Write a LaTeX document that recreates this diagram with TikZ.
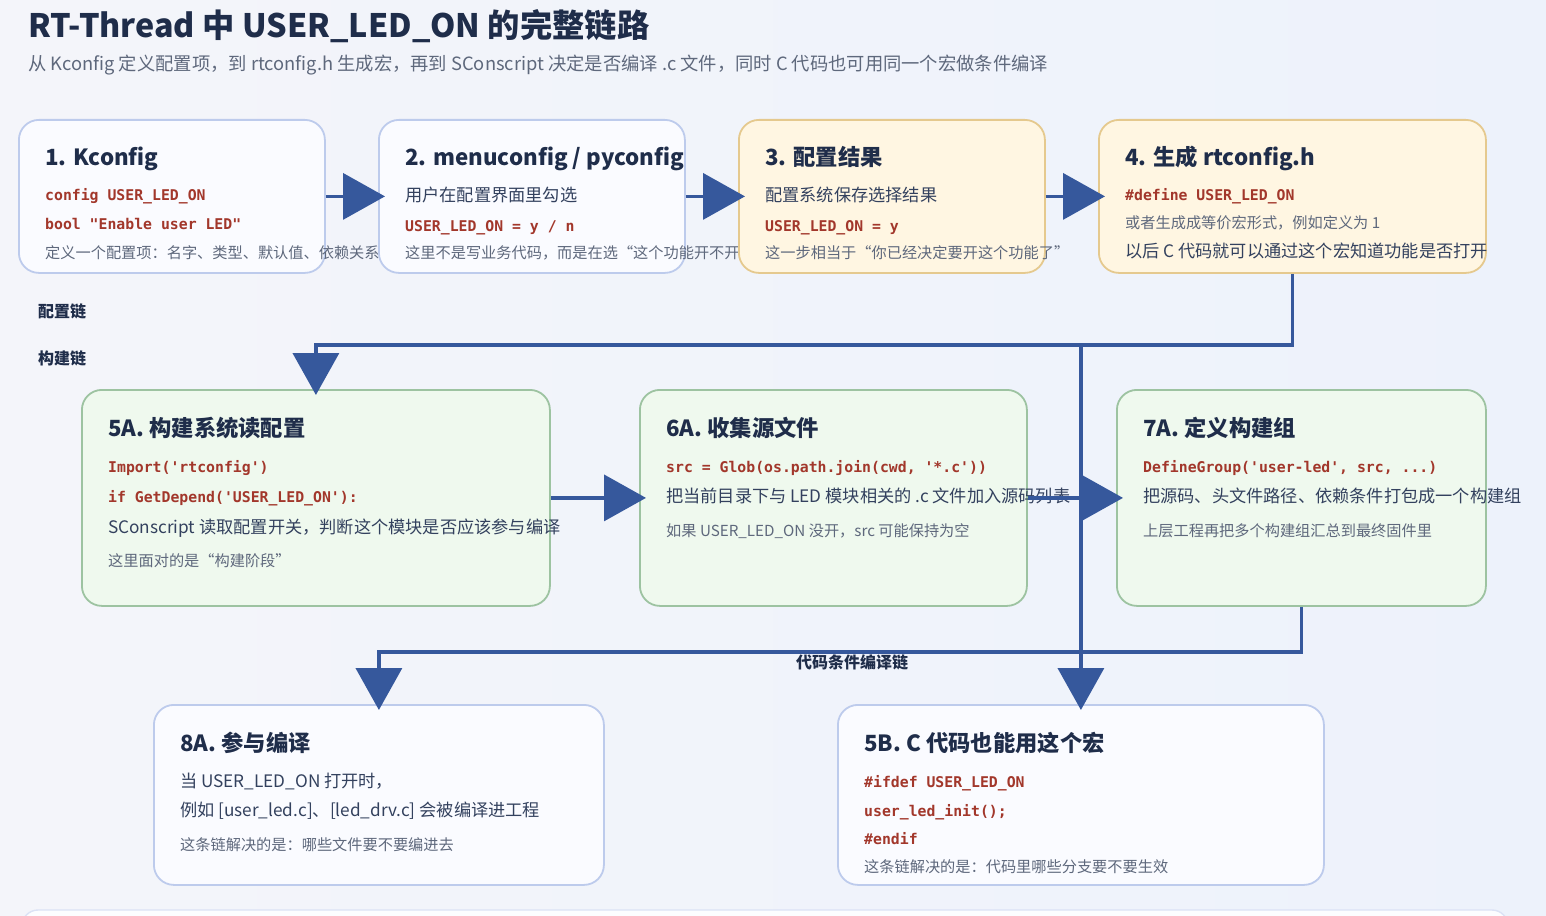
\documentclass[tikz,border=0pt]{standalone}
\usepackage{fontspec}
\setmainfont{Noto Sans CJK SC}
\setmonofont{DejaVu Sans Mono}
\usepackage{tikz}
\usetikzlibrary{positioning,arrows.meta,calc}
\definecolor{ink}{HTML}{1F2D4A}
\definecolor{bodyink}{HTML}{33415E}
\definecolor{muted}{HTML}{5E687C}
\definecolor{codered}{HTML}{A2372B}
\definecolor{flow}{HTML}{36589C}
\definecolor{paperl}{HTML}{F4F5FA}
\definecolor{paperr}{HTML}{EDF2FB}
\definecolor{blueline}{HTML}{BDCBEC}
\definecolor{bluefill}{HTML}{FAFBFF}
\definecolor{sandline}{HTML}{E5C98E}
\definecolor{sandfill}{HTML}{FFF6E2}
\definecolor{leafline}{HTML}{9DC3A1}
\definecolor{leaffill}{HTML}{EFF9EE}

\begin{document}
\begin{tikzpicture}[x=1pt, y=-1pt, >={Triangle[length=42pt,width=46pt]},
    card/.style={rounded corners=20pt, line width=1.8pt, anchor=north west, inner sep=0pt},
    bluecard/.style={card, draw=blueline, fill=bluefill},
    sandcard/.style={card, draw=sandline, fill=sandfill},
    leafcard/.style={card, draw=leafline, fill=leaffill},
    txt/.style={anchor=base west, inner sep=0pt},
    cardhead/.style={txt, font=\fontsize{22.3}{27}\selectfont\bfseries, text=ink},
    bodytxt/.style={txt, font=\fontsize{17.2}{21}\selectfont, text=bodyink},
    notetxt/.style={txt, font=\fontsize{15.2}{18}\selectfont, text=muted},
    codetxt/.style={txt, font=\fontsize{14.8}{18}\ttfamily\bfseries, text=codered},
    chainlbl/.style={txt, font=\fontsize{16}{19}\selectfont\bfseries, text=ink},
    flowline/.style={draw=flow, line width=3.6pt}]
    \useasboundingbox (0,0) rectangle (1546,915);
    \clip (0,0) rectangle (1546,915);
    \shade[left color=paperl, right color=paperr] (0,0) rectangle (1546,915);
    \draw[blueline!55, fill=bluefill!60, line width=1.4pt, rounded corners=16pt] (22,910) rectangle (1508,980);

    % header (text placed on baselines)
    \node[txt, font=\fontsize{32.3}{38}\selectfont\bfseries, text=ink] (title) at (28,38) {RT-Thread 中 USER\_LED\_ON 的完整链路};
    \node[txt, font=\fontsize{18.3}{22}\selectfont, text=muted] (subtitle) at (28,71) {从 Kconfig 定义配置项，到 rtconfig.h 生成宏，再到 SConscript 决定是否编译 .c 文件，同时 C 代码也可用同一个宏做条件编译};

    % config chain
    \node[bluecard, minimum width=306pt, minimum height=153pt] (b1) at (18,119) {};
    \node[cardhead] (b1h) at (45,165) {1. Kconfig};
    \node[codetxt] (b1c1) at (45,200) {config USER\_LED\_ON};
    \node[codetxt] (b1c2) at (45,229) {bool "Enable user LED"};
    \node[notetxt] (b1n) at (45,258) {定义一个配置项：名字、类型、默认值、依赖关系};

    \node[bluecard, minimum width=306pt, minimum height=153pt] (b2) at (378,119) {};
    \node[cardhead] (b2h) at (405,165) {2. menuconfig / pyconfig};
    \node[bodytxt] (b2t) at (405,201) {用户在配置界面里勾选};
    \node[codetxt] (b2c) at (405,231) {USER\_LED\_ON = y / n};
    \node[notetxt] (b2n) at (405,258) {这里不是写业务代码，而是在选“这个功能开不开”};

    \node[sandcard, minimum width=306pt, minimum height=153pt] (b3) at (738,119) {};
    \node[cardhead] (b3h) at (765,165) {3. 配置结果};
    \node[bodytxt] (b3t) at (765,201) {配置系统保存选择结果};
    \node[codetxt] (b3c) at (765,231) {USER\_LED\_ON = y};
    \node[notetxt] (b3n) at (765,258) {这一步相当于“你已经决定要开这个功能了”};

    \node[sandcard, minimum width=387pt, minimum height=153pt] (b4) at (1098,119) {};
    \node[cardhead] (b4h) at (1125,165) {4. 生成 rtconfig.h};
    \node[codetxt] (b4c) at (1125,200) {\#define USER\_LED\_ON};
    \node[notetxt] (b4n) at (1125,228) {或者生成成等价宏形式，例如定义为 1};
    \node[bodytxt] (b4t) at (1125,257) {以后 C 代码就可以通过这个宏知道功能是否打开};

    \node[chainlbl] (cfglbl) at (38,317) {配置链};
    \node[chainlbl] (bldlbl) at (38,364) {构建链};

    % build chain
    \node[leafcard, minimum width=468pt, minimum height=216pt] (b5a) at (81,389) {};
    \node[cardhead] (b5ah) at (108,436) {5A. 构建系统读配置};
    \node[codetxt] (b5ac1) at (108,472) {Import('rtconfig')};
    \node[codetxt] (b5ac2) at (108,502) {if GetDepend('USER\_LED\_ON'):};
    \node[bodytxt] (b5at) at (108,533) {SConscript 读取配置开关，判断这个模块是否应该参与编译};
    \node[notetxt] (b5an) at (108,566) {这里面对的是“构建阶段”};

    \node[leafcard, minimum width=387pt, minimum height=216pt] (b6a) at (639,389) {};
    \node[cardhead] (b6ah) at (666,436) {6A. 收集源文件};
    \node[codetxt] (b6ac) at (666,472) {src = Glob(os.path.join(cwd, '*.c'))};
    \node[bodytxt] (b6at) at (666,502) {把当前目录下与 LED 模块相关的 .c 文件加入源码列表};
    \node[notetxt] (b6an) at (666,536) {如果 USER\_LED\_ON 没开，src 可能保持为空};

    \node[leafcard, minimum width=369pt, minimum height=216pt] (b7a) at (1116,389) {};
    \node[cardhead] (b7ah) at (1143,436) {7A. 定义构建组};
    \node[codetxt] (b7ac) at (1143,472) {DefineGroup('user-led', src, ...)};
    \node[bodytxt] (b7at) at (1143,502) {把源码、头文件路径、依赖条件打包成一个构建组};
    \node[notetxt] (b7an) at (1143,536) {上层工程再把多个构建组汇总到最终固件里};

    % compile + code chain
    \node[bluecard, minimum width=450pt, minimum height=180pt] (b8a) at (153,704) {};
    \node[cardhead] (b8ah) at (180,751) {8A. 参与编译};
    \node[bodytxt] (b8at1) at (180,787) {当 USER\_LED\_ON 打开时，};
    \node[bodytxt] (b8at2) at (180,816) {例如 [user\_led.c]、[led\_drv.c] 会被编译进工程};
    \node[notetxt] (b8an) at (180,850) {这条链解决的是：哪些文件要不要编进去};

    \node[bluecard, minimum width=486pt, minimum height=180pt] (b5b) at (837,704) {};
    \node[cardhead] (b5bh) at (864,751) {5B. C 代码也能用这个宏};
    \node[codetxt] (b5bc1) at (864,787) {\#ifdef USER\_LED\_ON};
    \node[codetxt] (b5bc2) at (864,816) {user\_led\_init();};
    \node[codetxt] (b5bc3) at (864,844) {\#endif};
    \node[notetxt] (b5bn) at (864,872) {这条链解决的是：代码里哪些分支要不要生效};

    % connectors
    \foreach \a/\b in {b1/b2, b2/b3, b3/b4, b5a/b6a, b6a/b7a}
      \draw[flowline, ->, shorten >=-7pt] (\a.east) -- (\b.west);
    \draw[flowline, ->, shorten >=-6pt] (b4.south) -- ++(0,71) -| (b5a.north);
    \coordinate (cfgfork) at (b5b.north |- 0,343);
    \draw[flowline, ->, shorten >=-6pt] (cfgfork) -- (b5b.north);
    \draw[flowline, ->, shorten >=-6pt] (b7a.south) -- ++(0,45) -| (b8a.north);
    \node[chainlbl, anchor=base] (codelbl) at (852,668) {代码条件编译链};
  \end{tikzpicture}
\end{document}
